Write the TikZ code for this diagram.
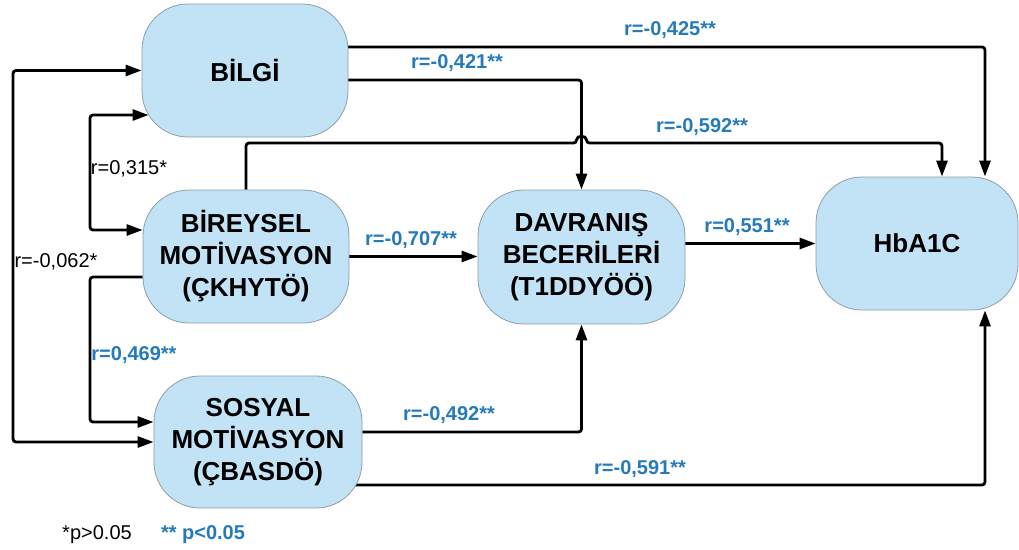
\documentclass[tikz,border=0pt]{standalone}
\usepackage{fontspec}
\setmainfont{Liberation Sans}
\usetikzlibrary{arrows.meta,backgrounds}

\definecolor{boxblue}{RGB}{194,226,245}
\definecolor{boxline}{RGB}{140,158,170}
\definecolor{rblue}{RGB}{36,122,186}

\tikzset{
  factor/.style={draw=boxline, line width=0.8pt, fill=boxblue, rounded corners=46pt,
    minimum width=206pt, minimum height=133pt, inner sep=0pt, align=center,
    font=\fontsize{26}{32}\selectfont\bfseries},
  link/.style={line width=2.8pt, rounded corners=3pt},
  rsig/.style={text=rblue, inner sep=0pt, font=\fontsize{20}{20}\selectfont\bfseries},
  rns/.style={inner sep=0pt, font=\fontsize{20}{20}\selectfont},
  >={Triangle[length=16pt,width=11pt]}
}

\begin{document}
\begin{tikzpicture}[x=1pt,y=-1pt]
\useasboundingbox (0,0) rectangle (1019,549);

% scales
\node[factor] (bilgi) at (245,70.5) {BİLGİ};
\node[factor] (bireysel) at (246,256.5) {BİREYSEL\\MOTİVASYON\\(ÇKHYTÖ)};
\node[factor, minimum width=208pt, minimum height=132pt] (sosyal) at (258,442) {SOSYAL\\MOTİVASYON\\(ÇBASDÖ)};
\node[factor, minimum width=207pt, minimum height=134pt] (davranis) at (581.5,257) {DAVRANIŞ\\BECERİLERİ\\(T1DDYÖÖ)};
\node[factor, minimum width=202pt] (hba) at (917,243.5) {HbA1C};

% bends
\coordinate (k1) at (985,47);
\coordinate (k2) at (582,80);
\coordinate (k3) at (942,143);
\coordinate (h1) at (576.5,143);
\coordinate (h2) at (586.5,143);
\coordinate (k6) at (583,432);
\coordinate (k7) at (985,485);
\coordinate (lo) at (13,0);
\coordinate (a1) at (90,115);
\coordinate (a2) at (90,230);
\coordinate (a3) at (90,277);
\coordinate (a4) at (90,422);

\begin{scope}[on background layer]
  \draw[link,->] (bilgi.center |- k1) -| (hba.north -| k1);
  \draw[link,->] (bilgi.center |- k2) -| (davranis.north);
  \draw[link,->] (bireysel.north) |- (h1) .. controls +(0,-8) and +(0,-8) .. (h2) -- (k3) -- (hba.north -| k3);
  \draw[link,->] (bireysel.east) -- (bireysel.east -| davranis.west);
  \draw[link,->] (davranis.east |- hba.west) -- (hba.west);
  \draw[link,->] (sosyal.east |- k6) -| (davranis.south);
  \draw[link,->] (sosyal.center |- k7) -- (k7) -- (hba.south -| k7);
  \draw[link,<->] (bilgi.west) -| (lo |- sosyal.west) -- (sosyal.west);
  \draw[link,<->] ([xshift=7pt]bilgi.west |- a1) -- (a1) -- (a2) -- (bireysel.west |- a2);
  \draw[link,->] (bireysel.west |- a3) -- (a3) -- (a4) -- (sosyal.west |- a4);
\end{scope}

% correlations
\node[rsig] (r425) at (670,30) {r=-0,425**};
\node[rsig] (r421) at (457,63) {r=-0,421**};
\node[rsig] (r592) at (702,127) {r=-0,592**};
\node[rsig] (r707) at (411,240) {r=-0,707**};
\node[rsig] (r551) at (747,227) {r=0,551**};
\node[rsig] (r492) at (449,415) {r=-0,492**};
\node[rsig] (r591) at (640,469) {r=-0,591**};
\node[rns] (r315) at (129,169) {r=0,315*};
\node[rns] (r062) at (56,262) {r=-0,062*};
\node[rsig] (r469) at (134,355) {r=0,469**};

% legend
\node[rns] (pns) at (97,535) {*p>0.05};
\node[rsig] (psig) at (203,535) {** p<0.05};
\end{tikzpicture}
\end{document}
